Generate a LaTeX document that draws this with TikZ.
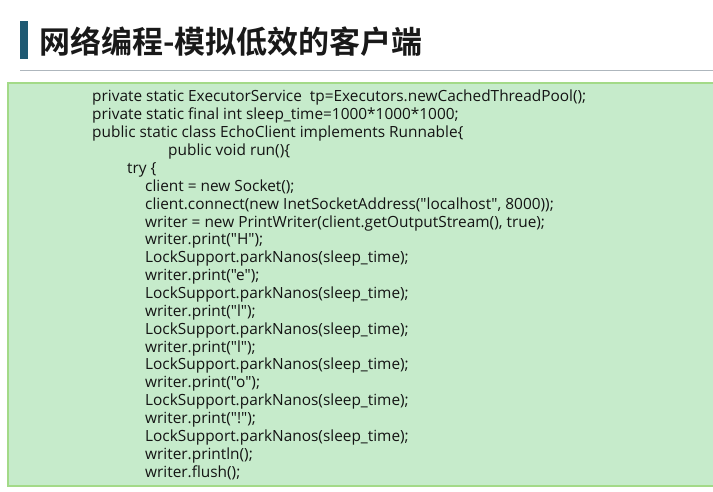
\documentclass[tikz,border=0pt]{standalone}
\usepackage{fontspec}
\setmainfont{Open Sans}[Ligatures=TeXOff]
\newfontfamily\cjk{Noto Sans CJK SC}[BoldFont={* Bold}]
\definecolor{barblue}{HTML}{1F5A73}
\definecolor{rulegray}{HTML}{AEB6BD}
\definecolor{boxfill}{HTML}{C6EBCB}
\definecolor{boxedge}{HTML}{A3DA88}
\definecolor{codeink}{HTML}{141414}
\tikzset{
  codeline/.style={anchor=west, inner sep=0pt, text=codeink, font=\fontsize{15.4}{18}\selectfont},
  titletext/.style={anchor=west, inner sep=0pt, text=black!90, font=\cjk\bfseries\fontsize{31}{36}\selectfont}
}
\begin{document}
\begin{tikzpicture}[x=1pt,y=-1pt]
\useasboundingbox (0,0) rectangle (713,492);
\fill[white] (0,0) rectangle (713,492);
% title
\fill[barblue] (20,21) rectangle (28,59);
\node[titletext] (title) at (39,42) {网络编程-模拟低效的客户端};
\draw[rulegray, line width=1.8pt] (20,70.5) -- (713,70.5);
% code box
\draw[boxedge, fill=boxfill, line width=2pt] (8,83) rectangle (720,486);
\def\ls{17.86}
\node[codeline] (l1) at (92,98) {private static ExecutorService\ \ tp=Executors.newCachedThreadPool();};
\node[codeline] (l2) at (92,98+1*\ls) {private static final int sleep\_time=1000*1000*1000;};
\node[codeline] (l3) at (92,98+2*\ls) {public static class EchoClient implements Runnable\{};
\node[codeline] (l4) at (168,98+3*\ls) {public void run()\{};
\node[codeline] (l5) at (127,98+4*\ls) {try \{};
\node[codeline] (l6) at (145,98+5*\ls) {client = new Socket();};
\node[codeline] (l7) at (145,98+6*\ls) {client.connect(new InetSocketAddress("localhost", 8000));};
\node[codeline] (l8) at (145,98+7*\ls) {writer = new PrintWriter(client.getOutputStream(), true);};
\node[codeline] (l9) at (145,98+8*\ls) {writer.print("H");};
\node[codeline] (l10) at (145,98+9*\ls) {LockSupport.parkNanos(sleep\_time);};
\node[codeline] (l11) at (145,98+10*\ls) {writer.print("e");};
\node[codeline] (l12) at (145,98+11*\ls) {LockSupport.parkNanos(sleep\_time);};
\node[codeline] (l13) at (145,98+12*\ls) {writer.print("l");};
\node[codeline] (l14) at (145,98+13*\ls) {LockSupport.parkNanos(sleep\_time);};
\node[codeline] (l15) at (145,98+14*\ls) {writer.print("l");};
\node[codeline] (l16) at (145,98+15*\ls) {LockSupport.parkNanos(sleep\_time);};
\node[codeline] (l17) at (145,98+16*\ls) {writer.print("o");};
\node[codeline] (l18) at (145,98+17*\ls) {LockSupport.parkNanos(sleep\_time);};
\node[codeline] (l19) at (145,98+18*\ls) {writer.print("!");};
\node[codeline] (l20) at (145,98+19*\ls) {LockSupport.parkNanos(sleep\_time);};
\node[codeline] (l21) at (145,98+20*\ls) {writer.println();};
\node[codeline] (l22) at (145,98+21*\ls) {writer.flush();};
\end{tikzpicture}
\end{document}
